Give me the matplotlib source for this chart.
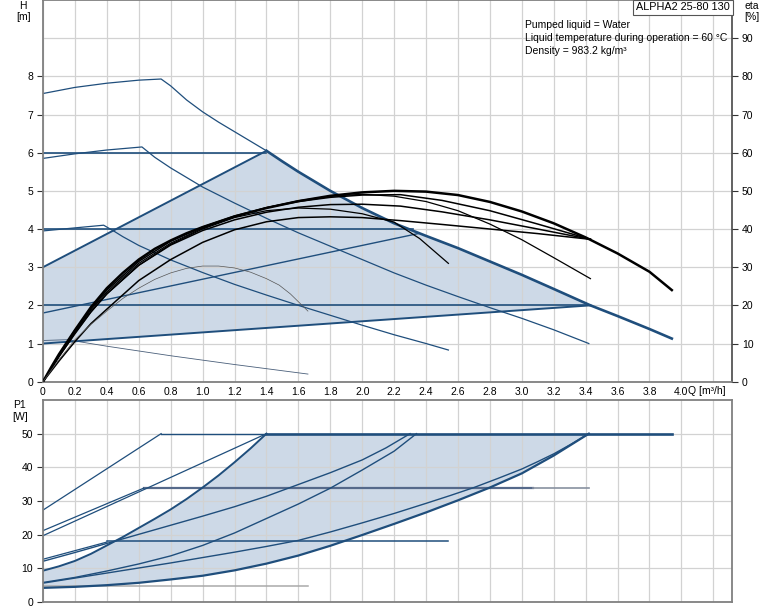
import numpy as np
import matplotlib
matplotlib.use("Agg")
import matplotlib.pyplot as plt

plt.rcParams['font.family'] = ['Liberation Sans', 'DejaVu Sans']
plt.rcParams['font.size'] = 7.5

BLUE = '#1f4e7c'
FILL = '#cdd9e7'
GRID = '#d2d2d2'
SPINE = '#808080'

# ---------------- head curves H [m] vs Q [m3/h] ----------------
# max speed curve, part before the power limit
max_q1 = [0.0, 0.2, 0.4, 0.6, 0.74, 0.8, 0.9, 1.0, 1.1, 1.2, 1.3, 1.4]
max_h1 = [7.55, 7.71, 7.82, 7.9, 7.93, 7.75, 7.38, 7.07, 6.8, 6.55, 6.3, 6.05]
# max speed curve, power limited part (thick)
max_q2 = [1.4, 1.5, 1.6, 1.8, 2.0, 2.2, 2.4, 2.6, 2.8, 3.0, 3.2, 3.43, 3.6, 3.8, 3.94]
max_h2 = [6.05, 5.77, 5.5, 5.0, 4.55, 4.15, 3.82, 3.5, 3.15, 2.8, 2.43, 2.0, 1.72, 1.38, 1.13]
# constant curve II
c2_q = [0.0, 0.2, 0.4, 0.62, 0.7, 0.8, 1.0, 1.2, 1.4, 1.6, 1.8, 2.0, 2.2, 2.4, 2.6, 2.8, 3.0, 3.2, 3.42]
c2_h = [5.85, 5.97, 6.07, 6.15, 5.88, 5.6, 5.1, 4.68, 4.28, 3.9, 3.55, 3.2, 2.85, 2.53, 2.23, 1.94, 1.66, 1.36, 1.0]
# constant curve I
c1_q = [0.0, 0.2, 0.38, 0.45, 0.5, 0.6, 0.8, 1.0, 1.2, 1.4, 1.6, 1.8, 2.0, 2.2, 2.4, 2.54]
c1_h = [3.95, 4.03, 4.1, 3.93, 3.8, 3.57, 3.19, 2.86, 2.55, 2.27, 2.0, 1.74, 1.48, 1.23, 1.0, 0.83]
# min curve
cmin_q = [0.0, 0.15, 0.4, 0.8, 1.2, 1.66]
cmin_h = [1.08, 1.1, 0.93, 0.68, 0.45, 0.2]
# proportional pressure lines
pp_upper_q = [0.0, 1.4]
pp_upper_h = [3.0, 6.05]
pp_mid_q = [0.0, 2.35]
pp_mid_h = [1.8, 3.88]
pp_lower_q = [0.0, 3.43]
pp_lower_h = [1.0, 2.0]
# constant pressure lines (level, end flow)
cp_levels = [6.0, 4.0, 2.0]
cp_ends = [1.4, 2.32, 3.43]

# ---------------- efficiency curves eta [%] ----------------
eta_max_q = [0, 0.05, 0.1, 0.2, 0.3, 0.4, 0.5, 0.6, 0.7, 0.8, 0.9, 1.0, 1.2, 1.4, 1.6, 1.8, 2.0, 2.2,
             2.4, 2.6, 2.8, 3.0, 3.2, 3.4, 3.6, 3.8, 3.94]
eta_max_v = [0, 3.7, 7.2, 13.5, 19.5, 24.5, 28.5, 32, 34.8, 37, 38.9, 40.5, 43.3, 45.5, 47.3, 48.7, 49.6, 50,
             49.8, 48.9, 47.1, 44.6, 41.5, 37.8, 33.6, 28.8, 24]
eta_a_q = [0, 0.1, 0.2, 0.3, 0.4, 0.6, 0.8, 1.0, 1.2, 1.4, 1.6, 1.8, 2.0, 2.2, 2.4, 2.6, 2.8, 3.0, 3.2, 3.43]
eta_a_v = [0, 6.8, 13, 18.8, 23.5, 31, 36.3, 40.2, 43.2, 45.6, 47.4, 48.6, 49.1, 48.6, 47.2, 44.8, 41.3,
           37.2, 32.5, 27]
eta_b_q = [0, 0.1, 0.2, 0.3, 0.4, 0.6, 0.8, 1.0, 1.2, 1.4, 1.6, 1.8, 2.0, 2.2, 2.36, 2.54]
eta_b_v = [0, 6.5, 12.5, 18.2, 23, 30.5, 36, 40, 43, 44.8, 45.5, 45.2, 44, 41.8, 37.5, 31]
eta_c_q = [0, 0.1, 0.2, 0.3, 0.4, 0.6, 0.8, 1.0, 1.2, 1.4, 1.6, 1.8, 2.0, 2.24, 2.5, 2.8, 3.1, 3.43]
eta_c_v = [0, 7, 13.5, 19.2, 24, 31.5, 36.8, 40.5, 43.4, 45.6, 47.2, 48.3, 48.9, 49.0, 47.5, 44.8, 41.3,
           37.3]
eta_d_q = [0, 0.1, 0.2, 0.3, 0.4, 0.6, 0.8, 1.0, 1.2, 1.4, 1.6, 1.8, 2.0, 2.24, 2.5, 2.8, 3.1, 3.43]
eta_d_v = [0, 6.6, 12.8, 18.3, 23, 30.5, 35.8, 39.6, 42.4, 44.4, 45.7, 46.4, 46.5, 46, 44.5, 42.4, 40, 37.3]
eta_e_q = [0, 0.1, 0.2, 0.3, 0.4, 0.6, 0.8, 1.0, 1.2, 1.4, 1.6, 1.8, 2.0, 2.24, 2.5, 2.8, 3.1, 3.43]
eta_e_v = [0, 5.4, 10.5, 15.2, 19, 26.5, 32, 36.5, 39.8, 41.9, 43, 43.2, 43, 42.2, 41.2, 40, 38.8, 37.3]
eta_min_q = [0, 0.1, 0.2, 0.3, 0.4, 0.5, 0.6, 0.7, 0.8, 0.9, 1.0, 1.1, 1.2, 1.3, 1.4, 1.48, 1.55, 1.66]
eta_min_v = [0, 5.8, 11, 15, 18.5, 21.8, 24.5, 26.8, 28.5, 29.7, 30.3, 30.3, 29.8, 28.7, 27, 25.3, 23, 18.5]

# ---------------- power curves P1 [W] ----------------
p_max_q = [0.0, 0.74]
p_max_v = [27.3, 50]
p_c2_q = [0.0, 0.63]
p_c2_v = [21.2, 33.8]
p_ppu_q = [0.0, 1.4]
p_ppu_v = [19.7, 50]
p_c1_q = [0.0, 0.4]
p_c1_v = [12.7, 17.8]
p_a_q = [0.0, 0.2, 0.4, 0.6, 0.8, 1.0, 1.2, 1.4, 1.6, 1.8, 2.0, 2.15, 2.3]
p_a_v = [12.1, 14.7, 17.4, 20.1, 22.8, 25.5, 28.3, 31.4, 34.9, 38.4, 42.2, 45.8, 50]
p_c_q = [0.0, 0.1, 0.2, 0.3, 0.4, 0.5, 0.6, 0.7, 0.8, 0.9, 1.0, 1.1, 1.2, 1.3, 1.4]
p_c_v = [9.3, 10.6, 12.2, 14.3, 16.8, 19.3, 22.0, 24.7, 27.5, 30.6, 34.0, 37.6, 41.5, 45.6, 50]
p_b_q = [0.0, 0.2, 0.4, 0.6, 0.8, 1.0, 1.2, 1.4, 1.6, 1.8, 2.0, 2.2, 2.34]
p_b_v = [5.8, 7.3, 9.2, 11.3, 13.7, 16.8, 20.5, 24.8, 29.1, 33.8, 39.2, 44.8, 50]
p_d_q = [0.0, 0.2, 0.4, 0.6, 0.8, 1.0, 1.2, 1.4, 1.6, 1.8, 2.0, 2.2, 2.4, 2.55, 2.7, 2.85, 3.0, 3.1,
         3.2, 3.31, 3.42]
p_d_v = [5.6, 7.1, 8.6, 10.1, 11.6, 13.2, 14.8, 16.5, 18.3, 20.8, 23.5, 26.3, 29.3, 31.6, 34.0, 36.7,
         39.5, 41.7, 44.0, 46.9, 50]
p_e_q = [0.0, 0.2, 0.4, 0.6, 0.8, 1.0, 1.2, 1.4, 1.6, 1.8, 2.0, 2.2, 2.4, 2.6, 2.8, 3.0, 3.2, 3.42]
p_e_v = [4.2, 4.5, 5.0, 5.7, 6.7, 7.8, 9.4, 11.4, 13.8, 16.7, 19.9, 23.2, 26.6, 30.2, 34.0, 38.2, 43.5, 50]
p_limit = 50
p_limit_q = [0.74, 1.4, 3.94]
p34_q = [0.63, 3.07, 3.42]
p34_v = 34
p18_q = [0.4, 2.54]
p18_v = 18
p5_q = [0.0, 1.66]
p5_v = 4.9

xticks = [round(0.2 * i, 1) for i in range(21)]
xlabels = ['0'] + ['%.1f' % v for v in xticks[1:]]

fig = plt.figure(figsize=(7.74, 6.11), dpi=100)
W, H = 774, 611
ax = fig.add_axes([43 / W, 1 - 381.7 / H, (732 - 43) / W, 381.7 / H])
ax2 = ax.twinx()
axp = fig.add_axes([43 / W, 1 - 602 / H, (732 - 43) / W, (602 - 400) / H])

xmax = (732 - 43) / 159.6
for a in (ax, axp):
    a.set_xlim(0, xmax)
    a.set_xticks(xticks)
    a.set_xticks([4.2], minor=True)
    a.grid(True, which='both', color=GRID, lw=0.9, zorder=0.5)
    for s in a.spines.values():
        s.set_color(SPINE)
        s.set_linewidth(1.3)
    a.tick_params(axis='x', which='both', length=0, pad=4)
    a.tick_params(axis='y', which='major', direction='out', length=4, width=0.8,
                  color='#333333', pad=3)
    a.tick_params(axis='y', which='minor', length=0)

ax.set_xticklabels(xlabels)
axp.set_xticklabels([])
ax.set_ylim(0, 10)
ax.set_yticks(range(9))
ax.set_yticks([9], minor=True)
ax2.set_ylim(0, 100)
ax2.set_yticks(range(0, 100, 10))
ax2.tick_params(axis='y', direction='out', length=4, width=0.8, color='#333333', pad=3)
for s in ax2.spines.values():
    s.set_visible(False)
ax.spines['right'].set_color('#555555')

axp.set_ylim(0, 60)
axp.set_yticks(range(0, 60, 10))
axp.set_yticks([], minor=True)

# ---------- top: shaded operating area ----------
fill_q = list(pp_upper_q) + [q for q in max_q2 if q <= 3.43][1:] + pp_lower_q[::-1]
fill_h = list(pp_upper_h) + [h for q, h in zip(max_q2, max_h2) if q <= 3.43][1:] + pp_lower_h[::-1]
ax.fill(fill_q, fill_h, color=FILL, lw=0, zorder=0.4)

ax.plot(max_q1, max_h1, color=BLUE, lw=0.9, zorder=2)
ax.plot(max_q2, max_h2, color=BLUE, lw=1.9, zorder=2)
ax.plot(c2_q, c2_h, color=BLUE, lw=0.9, zorder=2)
ax.plot(c1_q, c1_h, color=BLUE, lw=0.9, zorder=2)
ax.plot(cmin_q, cmin_h, color='#4a5f7a', lw=0.6, zorder=2)
ax.plot(pp_upper_q, pp_upper_h, color=BLUE, lw=1.4, zorder=2)
ax.plot(pp_mid_q, pp_mid_h, color=BLUE, lw=1.0, zorder=2)
ax.plot(pp_lower_q, pp_lower_h, color=BLUE, lw=1.4, zorder=2)
for lev, qe in zip(cp_levels, cp_ends):
    ax.plot([0, qe], [lev, lev], color=BLUE, lw=1.2, zorder=2)

# ---------- efficiency curves on the % axis ----------
for q, v, lw in [(eta_a_q, eta_a_v, 0.9), (eta_b_q, eta_b_v, 0.9), (eta_c_q, eta_c_v, 1.1),
                 (eta_d_q, eta_d_v, 1.1), (eta_e_q, eta_e_v, 1.1)]:
    ax2.plot(q, v, color='black', lw=lw, zorder=3)
ax2.plot(eta_max_q, eta_max_v, color='black', lw=1.8, zorder=3)
ax2.plot(eta_min_q, eta_min_v, color='#555555', lw=0.5, zorder=3)

# ---------- bottom: power ----------
fill_pq = list(p_c_q) + [p34_q[-1]] + p_e_q[::-1]
fill_pv = list(p_c_v) + [p_limit] + p_e_v[::-1]
axp.fill(fill_pq, fill_pv, color=FILL, lw=0, zorder=0.4)

axp.plot(p_limit_q[:2], [p_limit] * 2, color=BLUE, lw=1.0, zorder=2)
axp.plot(p_limit_q[1:], [p_limit] * 2, color=BLUE, lw=1.9, zorder=2)
axp.plot(p34_q[:2], [p34_v] * 2, color='#55698a', lw=1.6, zorder=2)
axp.plot(p34_q[1:], [p34_v] * 2, color='#8891a0', lw=1.2, zorder=2)
axp.plot(p18_q, [p18_v] * 2, color=BLUE, lw=1.1, zorder=2)
axp.plot(p5_q, [p5_v] * 2, color='#a9a9a9', lw=1.1, zorder=2)
for q, v, lw in [(p_max_q, p_max_v, 0.9), (p_c2_q, p_c2_v, 0.9), (p_ppu_q, p_ppu_v, 0.9),
                 (p_c1_q, p_c1_v, 0.9), (p_a_q, p_a_v, 1.0), (p_b_q, p_b_v, 1.0),
                 (p_d_q, p_d_v, 1.0), (p_c_q, p_c_v, 1.4), (p_e_q, p_e_v, 1.6)]:
    axp.plot(q, v, color=BLUE, lw=lw, zorder=2)

# ---------- texts ----------
def ftext(x, y, s, **kw):
    fig.text(x / W, 1 - y / H, s, va='center', **kw)

ftext(23, 6, 'H', ha='center')
ftext(24, 17, '[m]', ha='center')
ftext(752, 6, 'eta', ha='center')
ftext(752, 17, '[%]', ha='center')
ftext(20, 405, 'P1', ha='center')
ftext(20, 417, '[W]', ha='center')
ftext(688, 391, 'Q [m³/h]', ha='left')
ftext(525, 25, 'Pumped liquid = Water', ha='left')
ftext(525, 38, 'Liquid temperature during operation = 60 °C', ha='left')
ftext(525, 51, 'Density = 983.2 kg/m³', ha='left')
ftext(683, 7.5, 'ALPHA2 25-80 130', ha='center', fontsize=7.8,
      bbox=dict(boxstyle='square,pad=0.25', fc='white', ec='#555555', lw=0.8))

fig.savefig('out.png', dpi=100)
